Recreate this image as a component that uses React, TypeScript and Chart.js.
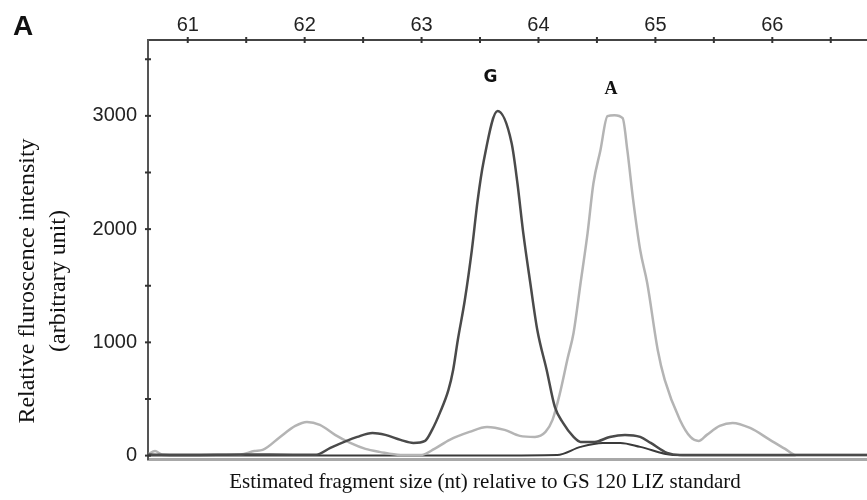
import React, { useEffect, useRef } from "react";
import { Chart, registerables } from "chart.js";

Chart.register(...registerables);

// Fragment size (nt) and relative fluorescence for each trace
const gSize = [60.66, 61.0, 61.5, 61.9, 62.1, 62.22, 62.45, 62.58, 62.69, 62.82, 62.93, 63.03, 63.09, 63.16, 63.23, 63.27, 63.31, 63.37, 63.43, 63.48, 63.53, 63.65, 63.77, 63.82, 63.87, 63.93, 63.99, 64.07, 64.14, 64.21, 64.3, 64.36, 64.48, 64.61, 64.74, 64.87, 64.96, 65.1, 65.21, 66.81];
const gSignal = [10, 5, 10, 8, 8, 68, 165, 200, 183, 139, 112, 130, 227, 386, 580, 756, 1021, 1374, 1815, 2256, 2592, 3042, 2760, 2405, 1965, 1524, 1109, 756, 430, 289, 165, 121, 121, 165, 183, 165, 112, 24, 6, 5];

const aSize = [60.66, 60.72, 60.78, 61.45, 61.57, 61.64, 61.79, 61.92, 62.02, 62.13, 62.26, 62.39, 62.52, 62.64, 62.82, 63.0, 63.11, 63.24, 63.41, 63.56, 63.71, 63.84, 63.97, 64.06, 64.12, 64.18, 64.25, 64.3, 64.36, 64.42, 64.47, 64.53, 64.59, 64.65, 64.72, 64.76, 64.81, 64.87, 64.93, 65.02, 65.08, 65.21, 65.3, 65.37, 65.44, 65.55, 65.66, 65.81, 65.98, 66.11, 66.2, 66.81];
const aSignal = [10, 40, 10, 10, 40, 50, 165, 262, 297, 271, 183, 112, 59, 33, 6, 6, 59, 139, 209, 253, 227, 174, 165, 209, 315, 536, 862, 1083, 1524, 1965, 2405, 2697, 2997, 3006, 2980, 2697, 2256, 1815, 1524, 933, 668, 315, 165, 130, 183, 262, 289, 244, 139, 59, 6, 6];

const cSize = [60.66, 61.5, 62.5, 63.0, 63.6, 64.16, 64.36, 64.55, 64.7, 64.87, 65.15, 65.6, 66.2];
const cSignal = [2, 2, 2, 2, 2, 6, 77, 112, 112, 77, 6, 3, 3];

const xTicks = [61, 61.5, 62, 62.5, 63, 63.5, 64, 64.5, 65, 65.5, 66, 66.5];
const yTicks = [0, 500, 1000, 1500, 2000, 2500, 3000, 3500];

const peakLabels = [
  { text: "G", size: 63.59, value: 3340, font: "bold 17px 'DejaVu Sans'" },
  { text: "A", size: 64.62, value: 3236, font: "bold 18px 'Liberation Serif'" },
];

const toPoints = (xs: number[], ys: number[]) => xs.map((x, i) => ({ x, y: ys[i] }));

const decorations = {
  id: "decorations",
  afterDraw(chart: any) {
    const { ctx } = chart;
    const xs = chart.scales.x;
    const ys = chart.scales.y;
    ctx.save();
    // tick marks crossing the axes
    ctx.strokeStyle = "#333";
    ctx.lineWidth = 2;
    xTicks.forEach((v) => {
      const px = xs.getPixelForValue(v);
      ctx.beginPath();
      ctx.moveTo(px, xs.bottom - 3);
      ctx.lineTo(px, xs.bottom + 3);
      ctx.stroke();
    });
    yTicks.forEach((v) => {
      const py = ys.getPixelForValue(v);
      ctx.beginPath();
      ctx.moveTo(ys.right - 3, py);
      ctx.lineTo(ys.right + 3, py);
      ctx.stroke();
    });
    // peak labels
    ctx.fillStyle = "#111";
    ctx.textAlign = "center";
    ctx.textBaseline = "middle";
    peakLabels.forEach((p) => {
      ctx.font = p.font;
      ctx.fillText(p.text, xs.getPixelForValue(p.size), ys.getPixelForValue(p.value));
    });
    // panel letter
    ctx.font = "bold 28px 'Liberation Sans'";
    ctx.textAlign = "left";
    ctx.textBaseline = "alphabetic";
    ctx.fillText("A", 13, 35);
    // x title
    ctx.fillStyle = "#111";
    ctx.font = "21px 'Liberation Serif'";
    ctx.textAlign = "center";
    ctx.textBaseline = "middle";
    ctx.fillText("Estimated fragment size (nt) relative to GS 120 LIZ standard", 485, 482);
    // y title
    ctx.font = "24px 'Liberation Serif'";
    ctx.translate(0, 281);
    ctx.rotate(-Math.PI / 2);
    ctx.fillText("Relative fluroscence intensity", 0, 28);
    ctx.fillText("(arbitrary unit)", 0, 59);
    ctx.restore();
  },
};

export default function App() {
  const ref = useRef<HTMLCanvasElement>(null);
  useEffect(() => {
    if (!ref.current) return;
    const chart = new Chart(ref.current, {
      type: "line",
      data: {
        datasets: [
          {
            label: "C",
            data: toPoints(cSize, cSignal),
            borderColor: "#3a3a3a",
            borderWidth: 2,
            pointRadius: 0,
            cubicInterpolationMode: "monotone",
            order: 3,
          },
          {
            label: "A",
            data: toPoints(aSize, aSignal),
            borderColor: "#b4b4b4",
            borderWidth: 2.5,
            pointRadius: 0,
            cubicInterpolationMode: "monotone",
            order: 2,
          },
          {
            label: "G",
            data: toPoints(gSize, gSignal),
            borderColor: "#4a4a4a",
            borderWidth: 2.5,
            pointRadius: 0,
            cubicInterpolationMode: "monotone",
            order: 1,
          },
        ],
      },
      options: {
        animation: false,
        responsive: false,
        devicePixelRatio: 1,
        layout: { padding: 0 },
        plugins: { legend: { display: false }, tooltip: { enabled: false } },
        scales: {
          x: {
            type: "linear",
            position: "top",
            min: 60.66,
            max: 66.81,
            afterBuildTicks: (s: any) => {
              s.ticks = xTicks.map((value) => ({ value }));
            },
            afterFit: (s: any) => {
              s.height = 40;
            },
            ticks: {
              padding: 3,
              color: "#222",
              font: { family: "'Liberation Sans'", size: 20 },
              callback: (v: any) => (Number.isInteger(v) ? String(v) : ""),
              maxRotation: 0,
              autoSkip: false,
            },
            grid: { display: false, drawTicks: false },
            border: { color: "#444", width: 2 },
          },
          x2: {
            type: "linear",
            position: "bottom",
            min: 60.66,
            max: 66.81,
            afterFit: (s: any) => {
              s.height = 41;
            },
            ticks: { display: false },
            grid: { display: false, drawTicks: false },
            border: { color: "#a8a8a8", width: 3 },
          },
          y: {
            type: "linear",
            min: -30,
            max: 3670,
            afterBuildTicks: (s: any) => {
              s.ticks = yTicks.map((value) => ({ value }));
            },
            afterFit: (s: any) => {
              s.width = 148;
            },
            ticks: {
              padding: 11,
              color: "#222",
              font: { family: "'Liberation Sans'", size: 20 },
              callback: (v: any) => (v % 1000 === 0 ? String(v) : ""),
              autoSkip: false,
            },
            grid: { display: false, drawTicks: false },
            border: { color: "#555", width: 2 },
          },
        },
      },
      plugins: [decorations],
    });
    return () => chart.destroy();
  }, []);
  return (
    <div style={{ position: "absolute", left: 0, top: 0, width: 867, height: 500, background: "#fff" }}>
      <canvas ref={ref} width={867} height={500} />
    </div>
  );
}
